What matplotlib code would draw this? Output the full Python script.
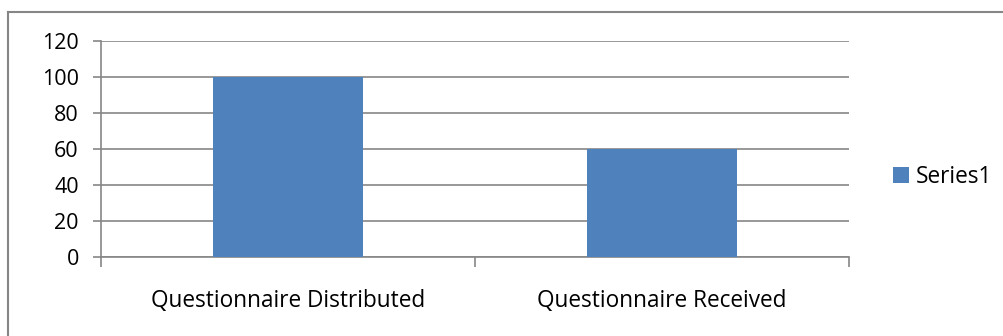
import matplotlib.pyplot as plt
from matplotlib.lines import Line2D

categories = ['Questionnaire Distributed', 'Questionnaire Received']
values = [100, 60]
series_name = 'Series1'
yticks = [0, 20, 40, 60, 80, 100, 120]

plt.rcParams['font.family'] = ['Open Sans', 'DejaVu Sans']

fig = plt.figure(figsize=(10.04, 3.36), dpi=100)
W, H = 1004.0, 336.0
ax = fig.add_axes([101 / W, 1 - 257 / H, (849 - 101) / W, (257 - 41) / H])

grey = '#868686'
x = list(range(len(categories)))
ax.bar(x, values, width=0.4, color='#4F81BD', label=series_name, zorder=3)

ax.set_xlim(-0.5, len(categories) - 0.5)
ax.set_ylim(0, 120)
ax.set_yticks(yticks)
ax.set_yticklabels([str(t) for t in yticks], fontsize=15.5)
ax.yaxis.grid(True, color=grey, linewidth=1.2, zorder=0)

ax.set_xticks([-0.5, 0.5, 1.5])
ax.set_xticklabels([])
ax.set_xticks(x, minor=True)
ax.set_xticklabels(categories, minor=True, fontsize=16.3)
ax.tick_params(axis='x', which='minor', length=0, pad=23)
ax.tick_params(axis='x', which='major', length=7, width=1.2, color=grey)
ax.tick_params(axis='y', length=6, width=1.2, color=grey, pad=10)

for s in ['top', 'right']:
    ax.spines[s].set_visible(False)
for s in ['left', 'bottom']:
    ax.spines[s].set_color(grey)
    ax.spines[s].set_linewidth(1.2)

leg = ax.legend(loc='center left', bbox_to_anchor=(1.032, 0.37), frameon=False,
                fontsize=16.3, handlelength=0.7, handleheight=0.7, handletextpad=0.3)

# outer chart border
fig.add_artist(Line2D([8 / W, 8 / W], [0, 1 - 12 / H], color=grey, linewidth=1.5))
fig.add_artist(Line2D([8 / W, 1], [1 - 12 / H, 1 - 12 / H], color=grey, linewidth=1.5))

fig.savefig('out.png', dpi=100)
